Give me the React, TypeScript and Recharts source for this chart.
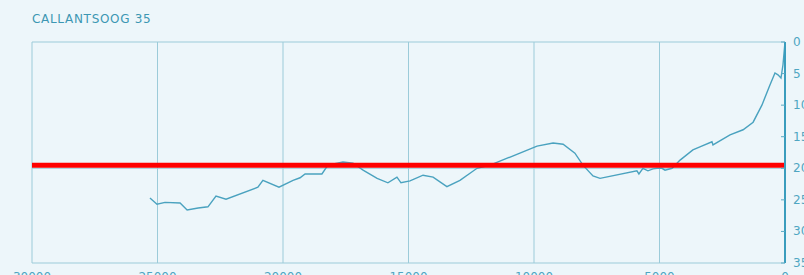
import React from "react";
import {
  LineChart,
  Line,
  XAxis,
  YAxis,
  CartesianGrid,
  ReferenceLine,
} from "recharts";

const distance = [
  25300, 25020, 24700, 24100, 23820, 23380, 22990, 22670, 22270, 21000, 20800,
  20160, 19600, 19320, 19120, 18450, 18210, 17610, 17210, 16810, 16250, 15820,
  15460, 15300, 14940, 14420, 14020, 13470, 12950, 12270, 11750, 9880, 9240,
  8840, 8370, 8050, 7650, 7370, 5900, 5820, 5660, 5460, 5260, 5100, 4900, 4780,
  4500, 4180, 3670, 3390, 2910, 2870, 2190, 1670, 1270, 920, 600, 400, 280, 160,
  80, 0,
];
const depth = [
  24.7, 25.7, 25.4, 25.5, 26.6, 26.3, 26.1, 24.4, 24.9, 23.0, 21.9, 23.0, 21.9,
  21.5, 20.9, 20.9, 19.5, 19.0, 19.2, 20.3, 21.6, 22.3, 21.4, 22.3, 22.0, 21.1,
  21.4, 22.9, 21.9, 20.0, 19.5, 16.5, 16.0, 16.2, 17.6, 19.5, 21.2, 21.6, 20.4,
  20.9, 20.0, 20.4, 20.1, 20.0, 20.0, 20.3, 20.0, 18.7, 17.1, 16.6, 15.8, 16.3,
  14.7, 13.9, 12.7, 10.0, 6.8, 4.9, 5.2, 5.7, 3.6, 0,
];
const xTicks = [0, 5000, 10000, 15000, 20000, 25000, 30000];
const yTicks = [0, 5, 10, 15, 20, 25, 30, 35];
const referenceDepth = 19.5;
const title = "CALLANTSOOG 35";

const data = distance.map((d, i) => ({ dist: d, depth: depth[i] }));

const GRID = "#9ccbd9";
const TEXT = "#4fa6c2";

const YTick = (props: any) => {
  const { x, y, payload } = props;
  return (
    <g>
      <line x1={x - 12} x2={x - 8} y1={y} y2={y} stroke="#5aaac4" strokeWidth={1} />
      <text
        x={x}
        y={y}
        dy={4}
        fill={TEXT}
        fontSize={12}
        fontFamily="'DejaVu Sans', sans-serif"
        textAnchor="start"
      >
        {payload.value}
      </text>
    </g>
  );
};

export default function App() {
  return (
    <div
      style={{
        position: "absolute",
        left: 0,
        top: 0,
        width: 804,
        height: 275,
        background: "#edf6fa",
        overflow: "hidden",
      }}
    >
      <div
        style={{
          position: "absolute",
          left: 32,
          top: 12,
          fontFamily: "'DejaVu Sans', sans-serif",
          fontSize: 12,
          letterSpacing: 0.7,
          color: "#3c97b3",
          whiteSpace: "nowrap",
        }}
      >
        {title}
      </div>
      <LineChart
        width={804}
        height={275}
        data={data}
        margin={{ top: 42, right: 0, bottom: 0, left: 32 }}
      >
        <CartesianGrid horizontal={false} stroke={GRID} strokeWidth={1} />
        <XAxis
          dataKey="dist"
          type="number"
          domain={[0, 30000]}
          reversed
          ticks={xTicks}
          interval={0}
          height={12}
          tickLine={false}
          tickMargin={3}
          axisLine={{ stroke: GRID, strokeWidth: 1 }}
          tick={{ fill: TEXT, fontSize: 12, fontFamily: "'DejaVu Sans', sans-serif" }}
        />
        <YAxis
          orientation="right"
          type="number"
          domain={[0, 35]}
          reversed
          ticks={yTicks}
          interval={0}
          width={19}
          tickSize={0}
          tickMargin={8}
          tickLine={false}
          axisLine={{ stroke: "#3a9dbd", strokeWidth: 2 }}
          tick={<YTick />}
        />
        <ReferenceLine y={0} stroke={GRID} strokeWidth={1} />
        <ReferenceLine y={20} stroke={GRID} strokeWidth={1} />
        <Line
          type="linear"
          dataKey="depth"
          stroke="#4aa2bf"
          strokeWidth={1.4}
          dot={false}
          isAnimationActive={false}
        />
        <ReferenceLine y={referenceDepth} stroke="#ff0000" strokeWidth={5} />
      </LineChart>
    </div>
  );
}
